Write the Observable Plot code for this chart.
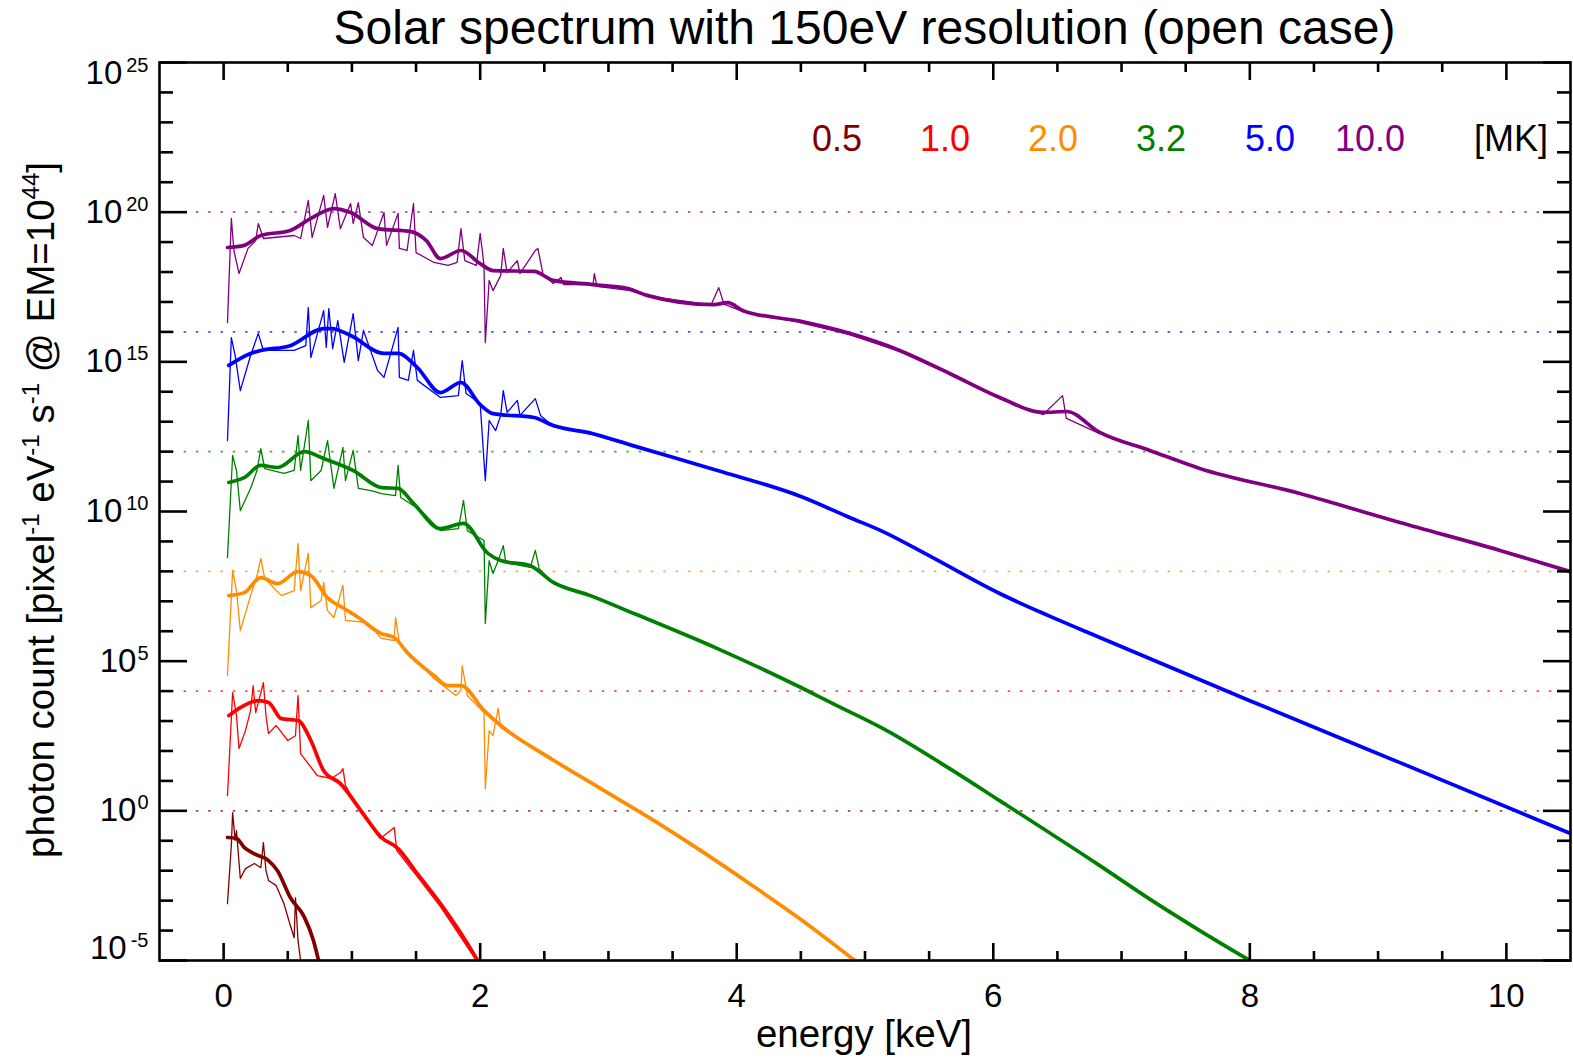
<!DOCTYPE html>
<html>
<head>
<meta charset="utf-8">
<script src="https://cdn.jsdelivr.net/npm/d3@7"></script>
<script src="https://cdn.jsdelivr.net/npm/@observablehq/plot@0.6"></script>
<style>
  html, body { margin: 0; padding: 0; background: #fff; }
  #wrap { position: relative; width: 1573px; height: 1061px; font-family: "Liberation Sans", Arial, Helvetica, sans-serif; }
  #title { position: absolute; left: 159px; width: 1411px; top: 4px; text-align: center; font-size: 48px; line-height: 48px; color: #000; white-space: nowrap; }
  .temp { position: absolute; top: 121px; font-size: 36px; line-height: 36px; transform: translateX(-50%); white-space: nowrap; }
</style>
</head>
<body>
<div id="wrap">
  <div id="chart"></div>
  <div id="title">Solar spectrum with 150eV resolution (open case)</div>
  <div id="legend"></div>
</div>
<script>
// Plasma temperatures [MK], line colours, and the decade offset applied to each spectrum
const temperaturesMK = ["0.5", "1.0", "2.0", "3.2", "5.0", "10.0"];
const seriesColors = ["#800000", "#ff0000", "#ff8c00", "#008000", "#0000ff", "#800080"];
const offsetExponents = [0, 4, 8, 12, 16, 20];

// Axis ticks
const majorX = [0, 2, 4, 6, 8, 10];
const minorX = [0.5, 1, 1.5, 2.5, 3, 3.5, 4.5, 5, 5.5, 6.5, 7, 7.5, 8.5, 9, 9.5];
const majorYExp = [-5, 0, 5, 10, 15, 20, 25];
const minorYExp = [-4, -3, -2, -1, 1, 2, 3, 4, 6, 7, 8, 9, 11, 12, 13, 14, 16, 17, 18, 19, 21, 22, 23, 24];

// Spectra: [energy keV, log10 photon count] (offset already applied)
// "broad" = folded with 150 eV resolution, "fine" = full line spectrum
const broad05MK = [[0.03,-0.89],[0.10,-0.92],[0.16,-1.22],[0.24,-1.44],[0.35,-1.66],[0.42,-2.0],[0.52,-2.9],[0.63,-3.56],[0.70,-4.33],[0.74,-5.0]];
const fine05MK = [[0.03,-3.10],[0.06,-1.16],[0.07,-0.06],[0.09,-0.99],[0.10,-0.66],[0.13,-2.26],[0.17,-1.93],[0.24,-1.76],[0.29,-1.90],[0.31,-1.06],[0.33,-2.0],[0.35,-2.33],[0.41,-2.50],[0.47,-3.10],[0.52,-3.83],[0.55,-4.24],[0.56,-2.90],[0.58,-4.33],[0.60,-5.0]];

const broad1MK = [[0.04,3.18],[0.13,3.45],[0.27,3.68],[0.35,3.62],[0.45,3.08],[0.58,3.02],[0.68,2.35],[0.78,1.34],[0.91,0.91],[1.07,0.01],[1.23,-0.89],[1.36,-1.26],[1.51,-2.10],[1.69,-3.10],[1.90,-4.43],[1.98,-5.0]];
const fine1MK = [[0.03,0.51],[0.07,3.95],[0.10,3.18],[0.12,2.08],[0.17,2.68],[0.21,3.35],[0.23,4.18],[0.25,3.28],[0.31,4.28],[0.33,3.18],[0.35,2.58],[0.41,2.85],[0.50,2.35],[0.56,2.51],[0.58,3.85],[0.60,1.91],[0.73,1.18],[0.84,1.08],[0.91,1.28],[0.93,1.41],[0.95,0.84],[1.07,-0.06],[1.22,-0.93],[1.33,-0.56],[1.35,-1.33],[1.51,-2.20],[1.69,-3.20],[1.97,-5.0]];

const broad2MK = [[0.04,7.19],[0.16,7.29],[0.29,7.79],[0.42,7.59],[0.58,7.99],[0.68,7.86],[0.81,7.12],[0.94,6.76],[1.05,6.46],[1.23,5.92],[1.33,5.79],[1.43,5.29],[1.64,4.52],[1.75,4.18],[1.85,4.18],[2.03,3.35],[2.16,2.85],[2.55,1.75],[2.94,0.74],[3.33,-0.26],[3.72,-1.33],[4.11,-2.46],[4.50,-3.63],[4.92,-5.0]];
const fine2MK = [[0.03,4.52],[0.07,8.03],[0.10,7.36],[0.13,6.02],[0.21,7.19],[0.26,7.86],[0.29,8.43],[0.32,7.76],[0.45,7.19],[0.55,7.36],[0.58,8.93],[0.60,7.36],[0.66,8.60],[0.68,6.79],[0.76,7.02],[0.78,7.63],[0.81,6.69],[0.86,6.46],[0.93,7.53],[0.95,6.36],[1.12,6.29],[1.23,5.76],[1.33,5.69],[1.34,6.46],[1.37,5.62],[1.64,4.42],[1.81,3.85],[1.85,4.02],[1.86,4.85],[1.90,3.85],[2.03,3.28],[2.04,0.74],[2.07,2.68],[2.10,2.51],[2.14,3.42],[2.16,2.78],[2.55,1.71]];

const broad3MK = [[0.04,10.97],[0.16,11.13],[0.29,11.54],[0.42,11.47],[0.63,12.00],[0.78,11.77],[1.01,11.37],[1.23,10.80],[1.36,10.77],[1.48,10.27],[1.69,9.43],[1.87,9.60],[2.06,8.60],[2.16,8.36],[2.39,8.19],[2.57,7.63],[2.86,7.19],[3.20,6.59],[3.85,5.42],[4.50,4.12],[4.75,3.58],[5.17,2.68],[5.66,1.41],[6.05,0.34],[6.83,-1.83],[7.22,-2.95],[7.61,-4.0],[8.0,-5.0]];
const fine3MK = [[0.03,8.46],[0.07,11.87],[0.10,11.37],[0.13,10.03],[0.21,10.77],[0.26,11.37],[0.29,12.10],[0.32,11.43],[0.47,11.27],[0.55,11.37],[0.58,12.54],[0.60,11.37],[0.66,13.04],[0.68,11.03],[0.76,11.37],[0.81,12.37],[0.86,10.77],[0.93,12.14],[0.95,11.03],[1.01,12.04],[1.05,10.77],[1.15,10.70],[1.23,10.60],[1.34,10.53],[1.36,11.54],[1.38,10.47],[1.54,10.03],[1.69,9.36],[1.83,9.43],[1.87,10.37],[1.90,9.36],[2.03,9.03],[2.04,6.26],[2.07,8.36],[2.10,7.93],[2.14,8.36],[2.18,8.86],[2.20,8.29],[2.39,8.13],[2.43,8.70],[2.46,8.09],[2.57,7.59],[2.86,7.16],[3.20,6.56]];

const broad5MK = [[0.04,14.88],[0.21,15.28],[0.29,15.38],[0.52,15.54],[0.78,16.11],[0.84,16.11],[0.99,15.88],[1.25,15.28],[1.36,15.28],[1.51,14.81],[1.69,13.97],[1.85,14.31],[2.00,13.57],[2.10,13.27],[2.42,13.14],[2.57,12.87],[2.88,12.60],[3.19,12.20],[3.85,11.37],[4.50,10.50],[4.88,9.80],[5.14,9.33],[5.51,8.50],[6.05,7.26],[6.43,6.52],[6.83,5.79],[8.00,3.68],[9.17,1.61],[10.5,-0.76]];
const fine5MK = [[0.03,12.37],[0.06,15.81],[0.09,15.21],[0.13,14.04],[0.21,15.21],[0.27,15.95],[0.31,15.38],[0.55,15.38],[0.64,15.54],[0.66,16.81],[0.68,15.14],[0.78,16.71],[0.80,15.48],[0.82,16.78],[0.85,15.44],[0.89,16.38],[0.94,14.98],[1.01,16.61],[1.05,15.04],[1.09,16.05],[1.20,14.71],[1.25,14.48],[1.36,16.15],[1.37,14.48],[1.44,14.38],[1.48,15.38],[1.51,14.38],[1.69,13.81],[1.83,13.87],[1.86,15.04],[1.89,13.94],[2.00,13.61],[2.04,11.03],[2.07,13.04],[2.12,12.70],[2.16,13.21],[2.18,14.04],[2.21,13.31],[2.29,13.71],[2.31,13.21],[2.43,13.77],[2.47,13.21],[2.57,12.84],[2.88,12.57],[3.19,12.17]];

const broad10MK = [[0.03,18.82],[0.16,18.89],[0.29,19.22],[0.52,19.39],[0.68,19.79],[0.86,20.12],[0.99,19.99],[1.20,19.45],[1.46,19.35],[1.58,19.05],[1.69,18.45],[1.85,18.72],[2.00,18.28],[2.10,18.05],[2.42,18.02],[2.57,17.72],[2.88,17.58],[3.15,17.45],[3.30,17.22],[3.82,16.91],[3.93,16.98],[4.05,16.71],[4.50,16.35],[4.88,15.95],[5.27,15.38],[5.66,14.61],[6.05,13.81],[6.39,13.31],[6.57,13.34],[6.83,12.64],[7.22,12.04],[7.61,11.44],[8.39,10.60],[9.17,9.63],[9.95,8.70],[10.5,7.99]];
const fine10MK = [[0.03,16.31],[0.06,19.79],[0.08,18.72],[0.12,17.95],[0.19,18.79],[0.25,19.05],[0.27,19.62],[0.31,19.12],[0.55,19.22],[0.60,19.12],[0.66,20.39],[0.69,19.15],[0.78,20.56],[0.81,19.49],[0.87,20.62],[0.91,19.45],[0.99,20.29],[1.01,19.62],[1.05,20.32],[1.09,19.15],[1.16,18.89],[1.25,19.99],[1.27,18.89],[1.36,19.96],[1.37,18.79],[1.43,18.72],[1.48,20.29],[1.50,18.65],[1.64,18.32],[1.75,18.22],[1.82,18.32],[1.85,19.45],[1.88,18.38],[1.97,18.22],[2.00,19.29],[2.03,18.22],[2.04,15.64],[2.07,17.72],[2.10,17.38],[2.16,17.88],[2.18,18.79],[2.21,17.98],[2.29,18.38],[2.31,17.95],[2.43,18.72],[2.45,18.79],[2.49,17.92],[2.57,17.62],[2.63,17.82],[2.65,17.58],[2.88,17.58],[2.89,17.95],[2.91,17.52],[3.17,17.38],[3.30,17.20],[3.80,16.90],[3.86,17.48],[3.90,16.93],[4.05,16.68],[4.50,16.31],[4.88,15.91],[5.27,15.35],[5.66,14.58],[6.05,13.77],[6.39,13.24],[6.54,13.87],[6.57,13.11],[6.83,12.60]];

const broadSpectra = [broad05MK, broad1MK, broad2MK, broad3MK, broad5MK, broad10MK];
const fineSpectra = [fine05MK, fine1MK, fine2MK, fine3MK, fine5MK, fine10MK];

const energy = d => d[0];
const count = d => 10 ** d[1];

const marks = [];

// dotted reference level for each temperature
temperaturesMK.forEach((t, i) => {
  marks.push(Plot.ruleY([10 ** offsetExponents[i]], {
    stroke: seriesColors[i], strokeOpacity: 0.7, strokeWidth: 1.6, strokeDasharray: "2.5,9.8"
  }));
});

// line spectra (thin) under the 150 eV spectra (thick)
temperaturesMK.forEach((t, i) => {
  marks.push(Plot.line(fineSpectra[i], {x: energy, y: count, stroke: seriesColors[i], strokeWidth: 1.3, clip: true}));
});
temperaturesMK.forEach((t, i) => {
  marks.push(Plot.line(broadSpectra[i], {x: energy, y: count, stroke: seriesColors[i], strokeWidth: 3.7, curve: "monotone-x", clip: true}));
});

const tickStyle = {stroke: "#000", strokeWidth: 2.6, fill: "none", label: null};
marks.push(
  Plot.frame({stroke: "#000", strokeWidth: 2.6}),
  // inward ticks on all four sides
  Plot.axisX({...tickStyle, anchor: "bottom", ticks: majorX, tickSize: -17}),
  Plot.axisX({...tickStyle, anchor: "bottom", ticks: minorX, tickSize: -9}),
  Plot.axisX({...tickStyle, anchor: "top", ticks: majorX, tickSize: -17}),
  Plot.axisX({...tickStyle, anchor: "top", ticks: minorX, tickSize: -9}),
  Plot.axisY({...tickStyle, anchor: "left", ticks: majorYExp.map(e => 10 ** e), tickSize: -28}),
  Plot.axisY({...tickStyle, anchor: "left", ticks: minorYExp.map(e => 10 ** e), tickSize: -14}),
  Plot.axisY({...tickStyle, anchor: "right", ticks: majorYExp.map(e => 10 ** e), tickSize: -28}),
  Plot.axisY({...tickStyle, anchor: "right", ticks: minorYExp.map(e => 10 ** e), tickSize: -14}),
  // tick labels
  Plot.axisX({anchor: "bottom", ticks: majorX, tickSize: 0, tickPadding: 23, fontSize: 33, label: null, tickFormat: d => String(d)}),
  Plot.axisY({anchor: "left", ticks: majorYExp.map(e => 10 ** e), tickSize: 0, tickPadding: 11, fontSize: 33, label: null,
    tickFormat: d => "10^" + Math.round(Math.log10(d))})
);

const chart = Plot.plot({
  width: 1573,
  height: 1061,
  marginLeft: 159,
  marginRight: 3,
  marginTop: 62,
  marginBottom: 101,
  style: {fontFamily: "Liberation Sans, Arial, Helvetica, sans-serif", background: "#fff", color: "#000", overflow: "visible"},
  x: {domain: [-0.5, 10.5]},
  y: {type: "log", domain: [1e-5, 1e25]},
  marks
});
document.getElementById("chart").append(chart);

const svg = d3.select(chart);

// powers of ten as 10 with a raised exponent
svg.selectAll('[aria-label="y-axis tick label"] text').each(function () {
  const [base, exp] = this.textContent.split("^");
  const t = d3.select(this).text(null).attr("font-size", 33);
  const b = t.append("tspan").attr("font-size", 33).text(base);
  if (exp === "25") b.attr("dy", 11);
  if (exp === "-5") b.attr("dy", -12);
  t.append("tspan").attr("dx", exp.length > 1 ? 4 : 1).attr("dy", -12).attr("font-size", 20).text(exp);
});

// axis titles
svg.append("text")
  .attr("x", 864).attr("y", 1047)
  .attr("text-anchor", "middle").attr("font-size", 38.5).attr("fill", "#000")
  .text("energy [keV]");

const yTitle = svg.append("text")
  .attr("transform", "translate(54,510) rotate(-90)")
  .attr("text-anchor", "middle").attr("font-size", 38.5).attr("fill", "#000");
const yParts = [["photon count [pixel", false], ["-1", true], [" eV", false], ["-1", true], [" s", false], ["-1", true], [" @ EM=10", false], ["44", true], ["]", false]];
let raised = false;
yParts.forEach(([s, sup]) => {
  const sp = yTitle.append("tspan").text(s);
  if (sup && !raised) { sp.attr("dy", -15).attr("font-size", 24); raised = true; }
  else if (sup) { sp.attr("font-size", 24); }
  else if (raised) { sp.attr("dy", 15); raised = false; }
});

// temperature legend
const legendCenters = [837, 945, 1053, 1161, 1270, 1370];
const legend = document.getElementById("legend");
temperaturesMK.forEach((t, i) => {
  const el = document.createElement("div");
  el.className = "temp";
  el.style.left = legendCenters[i] + "px";
  el.style.color = seriesColors[i];
  el.textContent = t;
  legend.append(el);
});
const unit = document.createElement("div");
unit.className = "temp";
unit.style.left = "1511px";
unit.style.color = "#000";
unit.textContent = "[MK]";
legend.append(unit);
</script>
</body>
</html>
